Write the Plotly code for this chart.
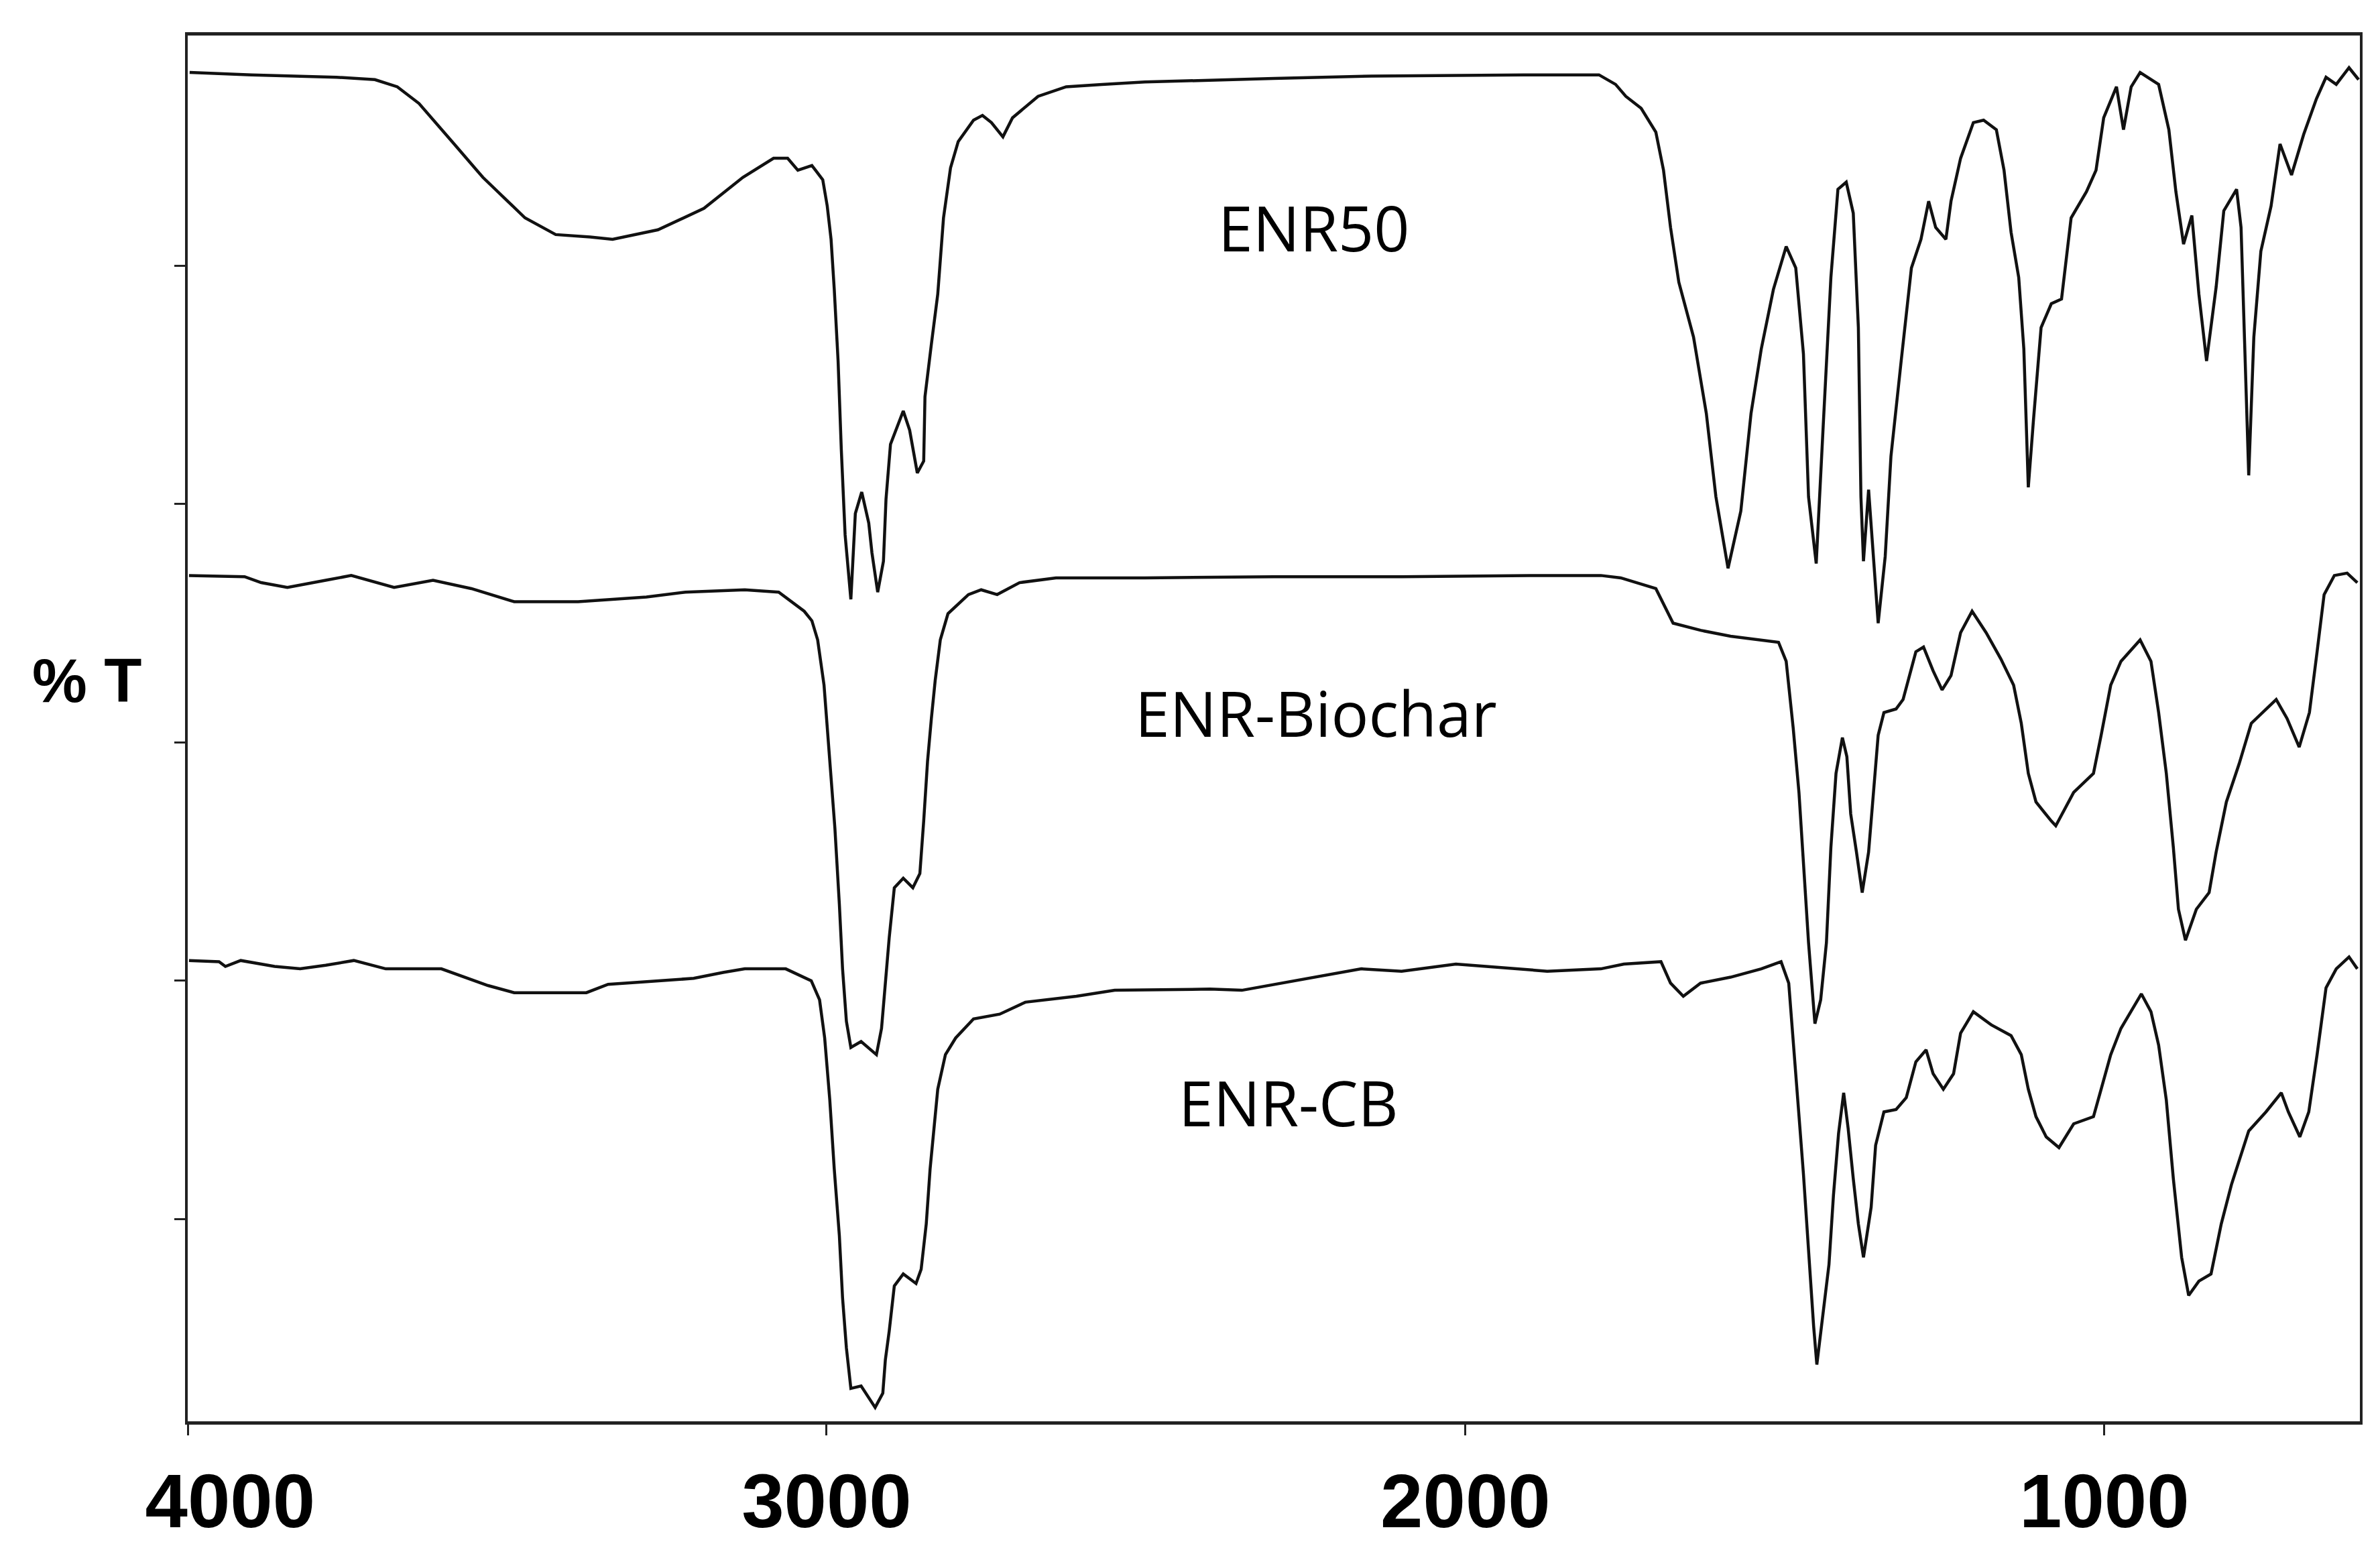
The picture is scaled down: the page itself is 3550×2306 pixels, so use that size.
import plotly.graph_objects as go

# ---------------- data (wavenumber cm-1, %T in arbitrary offset units) ----------------
enr50_wn = [3997, 3900, 3767, 3707, 3672, 3638, 3583, 3538, 3472, 3424, 3370, 3335, 3264, 3192, 3131,
            3083, 3061, 3045, 3023, 3006, 2999, 2993, 2988, 2982, 2977, 2971, 2962, 2955, 2945, 2934,
            2929, 2920, 2911, 2907, 2900, 2880, 2870, 2858, 2848, 2846, 2836, 2826, 2817, 2806, 2794,
            2770, 2756, 2742, 2724, 2709, 2669, 2625, 2569, 2502, 2300, 2147, 1909, 1791, 1765, 1749,
            1725, 1702, 1690, 1679, 1666, 1643, 1623, 1608, 1589, 1569, 1553, 1537, 1518, 1498, 1483,
            1471, 1463, 1451, 1440, 1428, 1417, 1404, 1393, 1385, 1381, 1377, 1369, 1361, 1354, 1343,
            1334, 1318, 1302, 1287, 1275, 1264, 1248, 1240, 1225, 1205, 1189, 1169, 1157, 1146, 1134,
            1126, 1119, 1111, 1099, 1083, 1067, 1052, 1028, 1013, 1001, 981, 970, 958, 944, 915,
            899, 888, 876, 863, 852, 840, 825, 813, 793, 786, 782, 774, 766, 755, 739,
            725, 707, 688, 668, 653, 637, 617, 602]
enr50_t = [58.1, 58.0, 57.9, 57.8, 57.5, 56.8, 55.1, 53.7, 52.0, 51.3, 51.2, 51.1, 51.5, 52.4, 53.7,
           54.5, 54.5, 54.0, 54.2, 53.6, 52.5, 51.1, 49.0, 46.0, 42.3, 38.7, 36.0, 39.6, 40.5, 39.2,
           37.95, 36.3, 37.6, 40.2, 42.5, 43.9, 43.1, 41.3, 41.8, 44.5, 46.7, 48.8, 52.0, 54.1, 55.2,
           56.1, 56.3, 56.0, 55.4, 56.2, 57.1, 57.5, 57.6, 57.7, 57.85, 57.95, 58.0, 58.0, 57.6, 57.1,
           56.6, 55.6, 54.0, 51.6, 49.3, 47.0, 43.8, 40.3, 37.3, 39.7, 43.8, 46.5, 49.0, 50.8, 49.9,
           46.3, 40.3, 37.5, 43.3, 49.5, 53.2, 53.5, 52.2, 47.4, 40.3, 37.6, 40.6, 37.4, 35.0, 37.8,
           42.0, 46.0, 49.9, 51.1, 52.7, 51.6, 51.1, 52.7, 54.5, 56.0, 56.1, 55.7, 54.0, 51.4, 49.5,
           46.5, 40.7, 43.5, 47.4, 48.4, 48.6, 52.0, 53.1, 54.0, 56.2, 57.5, 55.7, 57.5, 58.1, 57.6,
           55.7, 53.1, 50.9, 52.1, 48.8, 46.0, 49.1, 52.3, 53.2, 51.6, 48.2, 41.2, 47.0, 50.6, 52.5,
           55.1, 53.8, 55.5, 57.0, 57.9, 57.6, 58.3, 57.8]

biochar_wn = [3998, 3911, 3885, 3844, 3784, 3744, 3677, 3616, 3556, 3489, 3389, 3282, 3221, 3128, 3075,
              3035, 3023, 3014, 3004, 2995, 2987, 2980, 2975, 2969, 2962, 2946, 2922, 2914, 2908, 2902,
              2894, 2880, 2865, 2854, 2848, 2842, 2836, 2830, 2822, 2810, 2778, 2758, 2733, 2698, 2641,
              2502, 2300, 2100, 1900, 1788, 1757, 1702, 1675, 1632, 1585, 1510, 1498, 1487, 1478, 1471,
              1463, 1453, 1444, 1435, 1428, 1420, 1410, 1403, 1397, 1388, 1379, 1369, 1361, 1354, 1345,
              1326, 1315, 1295, 1283, 1268, 1254, 1240, 1225, 1207, 1185, 1162, 1142, 1130, 1119, 1107,
              1083, 1076, 1048, 1017, 1005, 990, 974, 944, 927, 915, 903, 892, 884, 873, 856,
              836, 825, 809, 789, 770, 731, 714, 695, 679, 667, 656, 640, 620, 604]
biochar_t = [37.0, 36.95, 36.7, 36.5, 36.8, 37.0, 36.5, 36.8, 36.45, 35.9, 35.9, 36.1, 36.3, 36.4, 36.3,
             35.5, 35.1, 34.3, 32.4, 29.4, 26.4, 23.2, 20.5, 18.3, 17.2, 17.45, 16.9, 18.0, 19.9, 21.8,
             23.9, 24.3, 23.9, 24.5, 26.7, 29.2, 31.0, 32.6, 34.3, 35.4, 36.2, 36.4, 36.2, 36.7, 36.9,
             36.9, 36.95, 36.95, 37.0, 37.0, 36.9, 36.45, 35.0, 34.7, 34.45, 34.2, 33.4, 30.6, 27.9, 24.9,
             21.6, 18.2, 19.2, 21.6, 25.6, 28.7, 30.2, 29.4, 27.0, 25.4, 23.7, 25.4, 27.9, 30.3, 31.25,
             31.4, 31.8, 33.8, 34.0, 33.0, 32.2, 32.8, 34.6, 35.5, 34.6, 33.5, 32.4, 30.8, 28.7, 27.5,
             26.7, 26.5, 27.9, 28.7, 30.3, 32.4, 33.4, 34.3, 33.4, 31.25, 28.7, 25.6, 23.0, 21.7, 23.0,
             23.7, 25.4, 27.5, 29.1, 30.8, 31.8, 31.0, 29.8, 31.25, 33.8, 36.2, 37.0, 37.1, 36.7]

cb_wn = [3998, 3951, 3941, 3917, 3864, 3824, 3784, 3740, 3690, 3603, 3530, 3489, 3376, 3342, 3289,
         3208, 3162, 3128, 3064, 3024, 3011, 3003, 2995, 2988, 2980, 2975, 2969, 2962, 2946, 2924,
         2912, 2908, 2902, 2894, 2880, 2860, 2852, 2844, 2838, 2832, 2826, 2814, 2798, 2770, 2729,
         2689, 2609, 2549, 2400, 2350, 2232, 2163, 2100, 2015, 1872, 1788, 1752, 1694, 1679, 1659,
         1632, 1585, 1537, 1506, 1494, 1487, 1479, 1471, 1463, 1455, 1450, 1440, 1431, 1424, 1416,
         1408, 1401, 1393, 1385, 1377, 1365, 1358, 1345, 1326, 1310, 1295, 1279, 1268, 1252, 1236,
         1225, 1205, 1177, 1146, 1130, 1119, 1107, 1091, 1071, 1048, 1017, 1005, 990, 974, 942,
         927, 915, 903, 892, 879, 868, 852, 833, 817, 801, 774, 747, 723, 712, 694,
         680, 667, 653, 637, 617, 604]
cb_t = [20.85, 20.8, 20.6, 20.85, 20.6, 20.5, 20.65, 20.85, 20.5, 20.5, 19.8, 19.5, 19.5, 19.85, 19.95,
        20.1, 20.35, 20.5, 20.5, 20.0, 19.2, 17.6, 15.0, 12.1, 9.3, 6.7, 4.6, 2.9, 3.0, 2.1,
        2.7, 4.1, 5.3, 7.2, 7.7, 7.3, 7.9, 9.8, 12.1, 13.8, 15.45, 16.9, 17.6, 18.4, 18.6,
        19.1, 19.35, 19.6, 19.65, 19.6, 20.15, 20.5, 20.4, 20.7, 20.4, 20.5, 20.7, 20.8, 19.9, 19.35,
        19.9, 20.15, 20.5, 20.8, 19.9, 17.6, 14.7, 11.9, 8.6, 5.5, 3.9, 6.0, 8.1, 11.0, 13.6,
        15.3, 13.8, 11.7, 9.8, 8.4, 10.5, 13.1, 14.5, 14.6, 15.1, 16.6, 17.1, 16.1, 15.45, 16.1,
        17.8, 18.7, 18.15, 17.7, 16.9, 15.45, 14.3, 13.45, 13.0, 14.0, 14.3, 15.45, 16.9, 18.0, 19.45,
        18.7, 17.3, 15.0, 11.7, 8.4, 6.8, 7.4, 7.7, 9.8, 11.45, 13.7, 14.5, 15.3, 14.5, 13.45,
        14.5, 16.9, 19.7, 20.5, 21.0, 20.5]

series_names = ["ENR50", "ENR-Biochar", "ENR-CB"]
label_wn = [2238, 2234, 2277]
label_t = [51.6, 31.25, 14.9]

x_tickvals = [4000, 3000, 2000, 1000]
x_ticktext = ["\u00a0\u00a0\u00a0\u00a04000", "3000", "2000", "1000"]
y_tickvals = [10, 20, 30, 40, 50]

# ---------------- figure ----------------
W, H = 3550, 2306
ml, mr, mt, mb = 272, 38, 45, 171
pw, ph = W - ml - mr, H - mt - mb

fig = go.Figure()
for wn, t, name in [(enr50_wn, enr50_t, series_names[0]),
                    (biochar_wn, biochar_t, series_names[1]),
                    (cb_wn, cb_t, series_names[2])]:
    fig.add_trace(go.Scatter(x=wn, y=t, mode="lines", name=name,
                             line=dict(color="#111111", width=4.5), showlegend=False))

for name, xw, yt in zip(series_names, label_wn, label_t):
    fig.add_annotation(x=xw, y=yt, xref="x", yref="y", text=name, showarrow=False,
                       font=dict(family="Open Sans, Noto Sans, sans-serif", size=93, color="black"))

fig.add_annotation(x=(122 - ml) / pw, y=(H - mb - 1018) / ph, xref="paper", yref="paper",
                   text="% T", showarrow=False, xanchor="center",
                   font=dict(family="Liberation Sans, Arial, sans-serif", size=92, color="black",
                             weight="bold"))

fig.update_layout(
    width=W, height=H,
    margin=dict(l=ml, r=mr, t=mt, b=mb, pad=0),
    paper_bgcolor="white", plot_bgcolor="white",
    xaxis=dict(range=[4000, 600], tickvals=x_tickvals, ticktext=x_ticktext,
               ticks="outside", ticklen=16, tickwidth=3, tickcolor="#222222",
               showline=True, linewidth=5, linecolor="#222222", mirror=True,
               showgrid=False, zeroline=False,
               tickfont=dict(family="Liberation Sans, Arial, sans-serif", size=114,
                             color="black", weight="bold")),
    yaxis=dict(range=[1.52, 59.65], tickvals=y_tickvals, showticklabels=False,
               ticks="outside", ticklen=16, tickwidth=3, tickcolor="#222222",
               showline=True, linewidth=4, linecolor="#222222", mirror=True,
               showgrid=False, zeroline=False),
)

fig.write_html("out.html")
